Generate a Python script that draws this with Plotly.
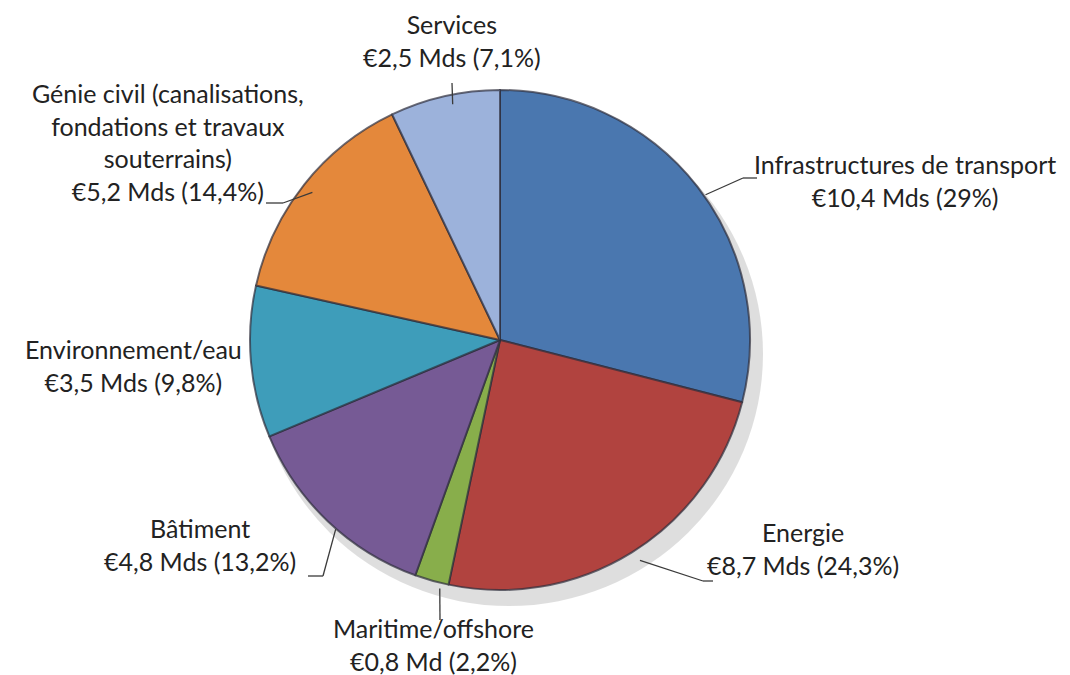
import math
import plotly.graph_objects as go

# ---- data ----
categories = ["Infrastructures de transport", "Energie", "Maritime/offshore", "Bâtiment",
              "Environnement/eau", "Génie civil (canalisations,<br>fondations et travaux<br>souterrains)", "Services"]
amounts = ["€10,4 Mds", "€8,7 Mds", "€0,8 Md", "€4,8 Mds", "€3,5 Mds", "€5,2 Mds", "€2,5 Mds"]
shares = [29.0, 24.3, 2.2, 13.2, 9.8, 14.4, 7.1]
share_labels = ["29%", "24,3%", "2,2%", "13,2%", "9,8%", "14,4%", "7,1%"]
colors = ["#4A77AF", "#B1433F", "#88AE4B", "#765A95", "#3E9DBA", "#E4883B", "#9CB2DB"]

W, H = 1070, 675
CX, CY, R = 500, 340, 250  # pie centre / radius in px
DX, DY = -8, -8            # compensation for plotly's pie placement

# label layout (px): anchor x, anchor y, xanchor, elbow points of leader
label_layout = [
    dict(x=744, y=173, xa="left", pts=[(735, 170), (749, 170)]),
    dict(x=697, y=540, xa="left", pts=[(695, 573), (705, 573)]),
    dict(x=425, y=636, xa="center", pts=[(432, 612)]),
    dict(x=290, y=536, xa="right", pts=[(315, 568), (300, 568)]),
    dict(x=236, y=357, xa="right", pts=[]),
    dict(x=160, y=134, xa="center", pts=[(275, 195), (258, 195)]),
    dict(x=444, y=33, xa="center", pts=[(444, 75)]),
]

def px(x):
    return x / W

def py(y):
    return 1 - y / H

fig = go.Figure()
fig.add_trace(go.Pie(
    values=shares,
    labels=[c.replace("<br>", " ") for c in categories],
    sort=False,
    direction="clockwise",
    rotation=0,
    textinfo="none",
    hoverinfo="label+percent",
    marker=dict(colors=colors, line=dict(color="rgba(45,45,60,0.7)", width=2)),
    domain=dict(x=[px(CX - R + DX), px(CX + R + DX)], y=[py(CY + R + DY), py(CY - R + DY)]),
    showlegend=False,
))

shapes = [
    dict(type="circle", xref="paper", yref="paper", layer="below",
         x0=px(CX - R - 3), x1=px(CX + R + 5), y0=py(CY + R + 8), y1=py(CY - R + 4),
         fillcolor="rgba(0,0,0,0.13)", line=dict(width=0)),
]
annotations = []
total = sum(shares)
cum = 0.0
for i, v in enumerate(shares):
    mid = (cum + v / 2) / total * 2 * math.pi
    cum += v
    ex = CX + R * math.sin(mid)
    ey = CY - R * math.cos(mid)
    lay = label_layout[i]
    pts = [(ex, ey)] + lay["pts"]
    for (x0, y0), (x1, y1) in zip(pts[:-1], pts[1:]):
        shapes.append(dict(type="line", xref="paper", yref="paper",
                           x0=px(x0), y0=py(y0), x1=px(x1), y1=py(y1),
                           line=dict(color="#3a3a3a", width=1.3)))
    annotations.append(dict(
        xref="paper", yref="paper", x=px(lay["x"]), y=py(lay["y"]),
        xanchor=lay["xa"], yanchor="middle", align="center", showarrow=False,
        text=f"{categories[i]}<br>{amounts[i]} ({share_labels[i]})",
        font=dict(family="Lato, Carlito, sans-serif", size=25, color="#222222"),
    ))

fig.update_layout(
    width=W, height=H,
    margin=dict(l=0, r=0, t=0, b=0),
    paper_bgcolor="white", plot_bgcolor="white",
    shapes=shapes, annotations=annotations,
)
fig.write_html("out.html")
